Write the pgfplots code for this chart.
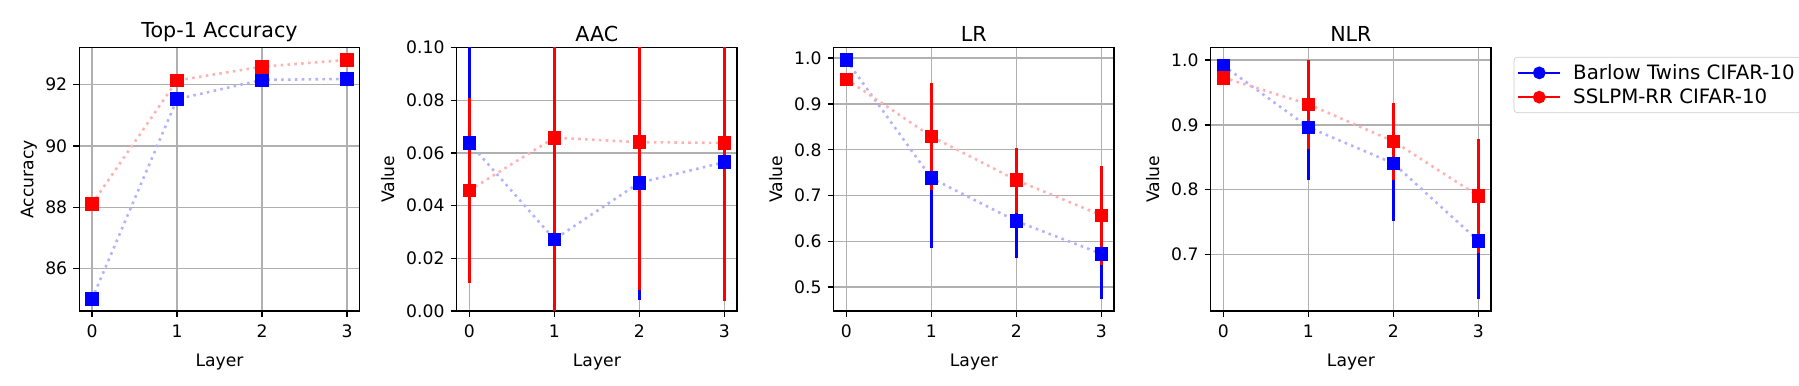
\documentclass[border=0pt]{standalone}
\usepackage{fontspec}
\setmainfont{DejaVu Sans}
\usepackage{pgfplots}
\pgfplotsset{compat=1.18}
\definecolor{gridgray}{RGB}{176,176,176}
\definecolor{legframe}{RGB}{204,204,204}

\pgfplotsset{
  panel/.style={
    scale only axis, width=163.1pt, height=153.1pt, anchor=south west,
    xmin=-0.15, xmax=3.15, xtick={0,1,2,3},
    grid=major, major grid style={color=gridgray, line width=0.8pt},
    axis line style={line width=0.8pt},
    tick align=outside, xtick pos=bottom, ytick pos=left,
    major tick length=3.5pt, tick style={black, line width=0.8pt},
    /pgf/number format/assume math mode=true,
    tick label style={font=\fontsize{10}{12}\selectfont},
    xticklabel style={yshift=-1.2pt},
    label style={font=\fontsize{10}{12}\selectfont},
    xlabel style={yshift=-2.5pt},
    title style={font=\fontsize{12}{14}\selectfont, yshift=-6pt},
    xlabel={Layer},
    clip=true,
  },
  dotline/.style={line width=1.5pt, dash pattern=on 1.5pt off 2.5pt, mark=none},
  ebars/.style={draw=none, mark=none, forget plot,
    error bars/.cd, y dir=both, y explicit, error mark=none,
    error bar style={draw=#1, solid, line width=2pt}},
  sq/.style={only marks, mark=square*, mark size=3.7pt, color=#1, forget plot},
}
\newcommand{\legfont}{\fontsize{11.5}{13.8}\selectfont}

\begin{document}
\begin{tikzpicture}
\path[use as bounding box] (0,0) rectangle (1046pt,224.4pt);

% Top-1 Accuracy
\begin{axis}[panel, at={(46.1pt,43.6pt)}, title={Top-1 Accuracy}, ylabel={Accuracy},
  ylabel style={yshift=-2pt},
  ymin=84.62, ymax=93.2, ytick={86,88,90,92}]
\addplot[dotline, blue!30] coordinates {(0,85.01) (1,91.52) (2,92.15) (3,92.18)};
\addplot[dotline, red!30] coordinates {(0,88.11) (1,92.13) (2,92.58) (3,92.80)};
\addplot[sq=blue] coordinates {(0,85.01) (1,91.52) (2,92.15) (3,92.18)};
\addplot[sq=red] coordinates {(0,88.11) (1,92.13) (2,92.58) (3,92.80)};
\end{axis}

% AAC
\begin{axis}[panel, at={(265.5pt,43.6pt)}, title={AAC}, ylabel={Value},
  ymin=0, ymax=0.1, ytick={0,0.02,0.04,0.06,0.08,0.1},
  yticklabel style={/pgf/number format/.cd, fixed, fixed zerofill, precision=2}]
\addplot[dotline, blue!30] coordinates {(0,0.0638) (1,0.0272) (2,0.0487) (3,0.0565)};
\addplot[dotline, red!30] coordinates {(0,0.0458) (1,0.0658) (2,0.0641) (3,0.0638)};
\addplot[ebars=blue] coordinates {(0,0.0638) +- (0,0.045) (1,0.0272) +- (0,0.025) (2,0.0487) +- (0,0.0445) (3,0.0565) +- (0,0.04)};
\addplot[ebars=red] coordinates {(0,0.0458) +- (0,0.0352) (1,0.0658) +- (0,0.07) (2,0.0641) +- (0,0.0561) (3,0.0638) +- (0,0.06)};
\addplot[sq=blue] coordinates {(0,0.0638) (1,0.0272) (2,0.0487) (3,0.0565)};
\addplot[sq=red] coordinates {(0,0.0458) (1,0.0658) (2,0.0641) (3,0.0638)};
\end{axis}

% LR
\begin{axis}[panel, at={(484.7pt,43.6pt)}, title={LR}, ylabel={Value},
  ymin=0.448, ymax=1.023, ytick={0.5,0.6,0.7,0.8,0.9,1.0},
  yticklabel style={/pgf/number format/.cd, fixed, fixed zerofill, precision=1}]
\addplot[dotline, blue!30] coordinates {(0,0.9956) (1,0.738) (2,0.644) (3,0.5728)};
\addplot[dotline, red!30] coordinates {(0,0.954) (1,0.829) (2,0.7336) (3,0.657)};
\addplot[ebars=blue] coordinates {(0,0.9956) +- (0,0.004) (1,0.738) +- (0,0.153) (2,0.644) +- (0,0.081) (3,0.5728) +- (0,0.098)};
\addplot[ebars=red] coordinates {(0,0.954) +- (0,0.004) (1,0.829) +- (0,0.116) (2,0.7336) +- (0,0.071) (3,0.657) +- (0,0.1086)};
\addplot[sq=blue] coordinates {(0,0.9956) (1,0.738) (2,0.644) (3,0.5728)};
\addplot[sq=red] coordinates {(0,0.954) (1,0.829) (2,0.7336) (3,0.657)};
\end{axis}

% NLR
\begin{axis}[panel, at={(703.9pt,43.6pt)}, title={NLR}, ylabel={Value},
  ymin=0.613, ymax=1.019, ytick={0.7,0.8,0.9,1.0},
  yticklabel style={/pgf/number format/.cd, fixed, fixed zerofill, precision=1},
  legend style={at={(1.08,0.965)}, anchor=north west, draw=legframe, rounded corners=2pt,
    font=\legfont, inner xsep=2pt, inner ysep=2pt, row sep=0pt},
  legend cell align=left,
  legend image code/.code={\draw[mark repeat=2, mark phase=2] plot coordinates {(0cm,0cm) (0.43cm,0cm) (0.86cm,0cm)};}]
\addplot[dotline, blue!30, forget plot] coordinates {(0,0.9913) (1,0.8963) (2,0.8406) (3,0.7210)};
\addplot[dotline, red!30, forget plot] coordinates {(0,0.9728) (1,0.9317) (2,0.8747) (3,0.7903)};
\addplot[ebars=blue] coordinates {(0,0.9913) +- (0,0.005) (1,0.8963) +- (0,0.082) (2,0.8406) +- (0,0.0896) (3,0.7210) +- (0,0.0893)};
\addplot[ebars=red] coordinates {(0,0.9728) +- (0,0.005) (1,0.9317) +- (0,0.0683) (2,0.8747) +- (0,0.0595) (3,0.7903) +- (0,0.0875)};
\addplot[sq=blue] coordinates {(0,0.9913) (1,0.8963) (2,0.8406) (3,0.7210)};
\addplot[sq=red] coordinates {(0,0.9728) (1,0.9317) (2,0.8747) (3,0.7903)};
\addlegendimage{blue, line width=1pt, mark=*, mark size=3.2pt, solid}
\addlegendentry{\hspace{5pt}Barlow Twins CIFAR-10}
\addlegendimage{red, line width=1pt, mark=*, mark size=3.2pt, solid}
\addlegendentry{\hspace{5pt}SSLPM-RR CIFAR-10}
\end{axis}
\end{tikzpicture}
\end{document}
